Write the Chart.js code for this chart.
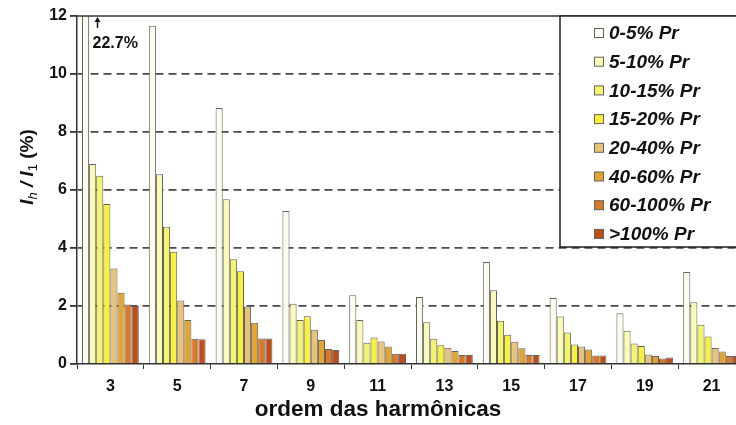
<!DOCTYPE html>
<html>
<head>
<meta charset="utf-8">
<script src="https://cdn.jsdelivr.net/npm/chart.js@4.4.1/dist/chart.umd.min.js"></script>
<style>
  html, body { margin: 0; padding: 0; background: #fff; overflow: hidden; }
  #wrap { width: 736px; height: 425px; overflow: hidden; }
</style>
</head>
<body>
<div id="wrap"><canvas id="chart" width="760" height="425"></canvas></div>
<script>
// harmonic orders on the x axis
const harmonics = ["3", "5", "7", "9", "11", "13", "15", "17", "19", "21"];

// power bands (share of rated power)
const bands = ["0-5% Pr", "5-10% Pr", "10-15% Pr", "15-20% Pr", "20-40% Pr", "40-60% Pr", "60-100% Pr", ">100% Pr"];
const bandColors = ["#fbfbef", "#fbfbb6", "#f5f56c", "#f8f03a", "#e9c27a", "#e3a52e", "#dc7724", "#bf4d17"];

// Ih/I1 in % per band, one value per harmonic order
const pr0_5 = [22.7, 11.66, 8.83, 5.28, 2.37, 2.31, 3.52, 2.28, 1.75, 3.17];
const pr5_10 = [6.9, 6.54, 5.68, 2.08, 1.52, 1.44, 2.54, 1.64, 1.15, 2.13];
const pr10_15 = [6.49, 4.73, 3.61, 1.52, 0.73, 0.87, 1.49, 1.09, 0.71, 1.35];
const pr15_20 = [5.52, 3.87, 3.2, 1.65, 0.91, 0.65, 1.01, 0.67, 0.62, 0.95];
const pr20_40 = [3.29, 2.19, 1.98, 1.18, 0.78, 0.56, 0.77, 0.6, 0.33, 0.55];
const pr40_60 = [2.46, 1.52, 1.42, 0.83, 0.6, 0.45, 0.54, 0.5, 0.28, 0.43];
const pr60_100 = [2.05, 0.87, 0.88, 0.52, 0.35, 0.31, 0.31, 0.29, 0.19, 0.28];
const pr100 = [2.0, 0.85, 0.88, 0.48, 0.35, 0.31, 0.31, 0.29, 0.22, 0.28];

const yTicks = [0, 2, 4, 6, 8, 10, 12];

const seriesList = [pr0_5, pr5_10, pr10_15, pr15_20, pr20_40, pr40_60, pr60_100, pr100];
const FONT = "'Liberation Sans', Arial, sans-serif";

const datasets = seriesList.map((vals, i) => ({
  label: bands[i],
  data: vals,
  backgroundColor: bandColors[i],
  borderColor: "#626262",
  borderWidth: 1,
  categoryPercentage: 0.85,
  barPercentage: 1.0,
}));

// frame top, y title, x title, arrow note and the boxed legend
const decorations = {
  id: "decorations",
  afterDatasetsDraw(chart) {
    const ctx = chart.ctx;
    const area = chart.chartArea;
    ctx.save();

    // top frame line
    ctx.strokeStyle = "#333";
    ctx.lineWidth = 1.5;
    ctx.beginPath();
    ctx.moveTo(area.left, area.top);
    ctx.lineTo(chart.width, area.top);
    ctx.stroke();

    // off-scale note on the first bar
    const bar = chart.getDatasetMeta(0).data[0];
    const ax = Math.round(bar.x + 11) + 0.5;
    ctx.strokeStyle = "#111";
    ctx.fillStyle = "#111";
    ctx.lineWidth = 1.5;
    ctx.beginPath();
    ctx.moveTo(ax, area.top + 12);
    ctx.lineTo(ax, area.top + 4);
    ctx.stroke();
    ctx.beginPath();
    ctx.moveTo(ax - 3, area.top + 6);
    ctx.lineTo(ax, area.top + 1);
    ctx.lineTo(ax + 3, area.top + 6);
    ctx.closePath();
    ctx.fill();
    ctx.font = "bold 16px " + FONT;
    ctx.textAlign = "left";
    ctx.textBaseline = "middle";
    ctx.fillText(pr0_5[0] + "%", ax - 5, area.top + 28);

    // legend box
    const lx = 560, ly = area.top, lh = 231;
    ctx.fillStyle = "#fff";
    ctx.fillRect(lx, ly, chart.width - lx, lh);
    ctx.strokeStyle = "#222";
    ctx.lineWidth = 1.5;
    ctx.strokeRect(lx, ly, chart.width - lx + 5, lh);
    bands.forEach((b, i) => {
      const cy = ly + 17 + i * 28.7;
      ctx.fillStyle = bandColors[i];
      ctx.fillRect(594.5, cy - 4.5, 9, 9);
      ctx.strokeStyle = "#626262";
      ctx.lineWidth = 1;
      ctx.strokeRect(594.5, cy - 4.5, 9, 9);
      ctx.fillStyle = "#111";
      ctx.font = "italic bold 19px " + FONT;
      ctx.textAlign = "left";
      ctx.textBaseline = "middle";
      ctx.fillText(b, 609, cy + 1);
    });

    // x axis title
    ctx.fillStyle = "#111";
    ctx.font = "bold 22.5px " + FONT;
    ctx.textAlign = "center";
    ctx.textBaseline = "middle";
    ctx.fillText("ordem das harmônicas", 378, 410);

    // y axis title: I_h / I_1 (%)
    ctx.translate(27, 167);
    ctx.rotate(-Math.PI / 2);
    const parts = [
      { t: "I", f: "italic bold 19px ", dy: 0 },
      { t: "h", f: "italic 13px ", dy: 4 },
      { t: " / ", f: "italic bold 19px ", dy: 0 },
      { t: "I", f: "italic bold 19px ", dy: 0 },
      { t: "1", f: "13px ", dy: 4 },
      { t: " (%)", f: "bold 19px ", dy: 0 },
    ];
    let total = 0;
    parts.forEach(p => { ctx.font = p.f + FONT; p.w = ctx.measureText(p.t).width; total += p.w; });
    let x = -total / 2;
    ctx.textAlign = "left";
    ctx.textBaseline = "alphabetic";
    parts.forEach(p => {
      ctx.font = p.f + FONT;
      ctx.fillText(p.t, x, 6 + p.dy);
      x += p.w;
    });
    ctx.restore();
  }
};

new Chart(document.getElementById("chart"), {
  type: "bar",
  data: { labels: harmonics, datasets: datasets },
  options: {
    responsive: false,
    devicePixelRatio: 1,
    animation: false,
    layout: { padding: { top: 16, right: 15, left: 0, bottom: 0 } },
    plugins: { legend: { display: false }, tooltip: { enabled: false } },
    scales: {
      x: {
        offset: true,
        grid: {
          offset: true,
          drawOnChartArea: false,
          drawTicks: true,
          tickLength: 5,
          tickColor: "#333",
        },
        border: { display: true, color: "#333", width: 1.5 },
        ticks: { color: "#111", font: { family: FONT, size: 16, weight: "bold" }, padding: 8 },
        afterFit(scale) { scale.height = 61; },
      },
      y: {
        min: 0,
        max: 12,
        afterBuildTicks(scale) { scale.ticks = yTicks.map(v => ({ value: v })); },
        grid: {
          color: c => (c.tick.value === 0 || c.tick.value === 12) ? "rgba(0,0,0,0)" : "#4a4a4a",
          lineWidth: 1.8,
          tickColor: "#333",
          tickBorderDash: [],
          tickLength: 7,
        },
        border: { display: true, color: "#333", width: 1.5, dash: [8, 5] },
        ticks: { color: "#111", font: { family: FONT, size: 16, weight: "bold" }, padding: 3 },
        afterFit(scale) { scale.width = 77; },
      },
    },
  },
  plugins: [decorations],
});
</script>
</body>
</html>
